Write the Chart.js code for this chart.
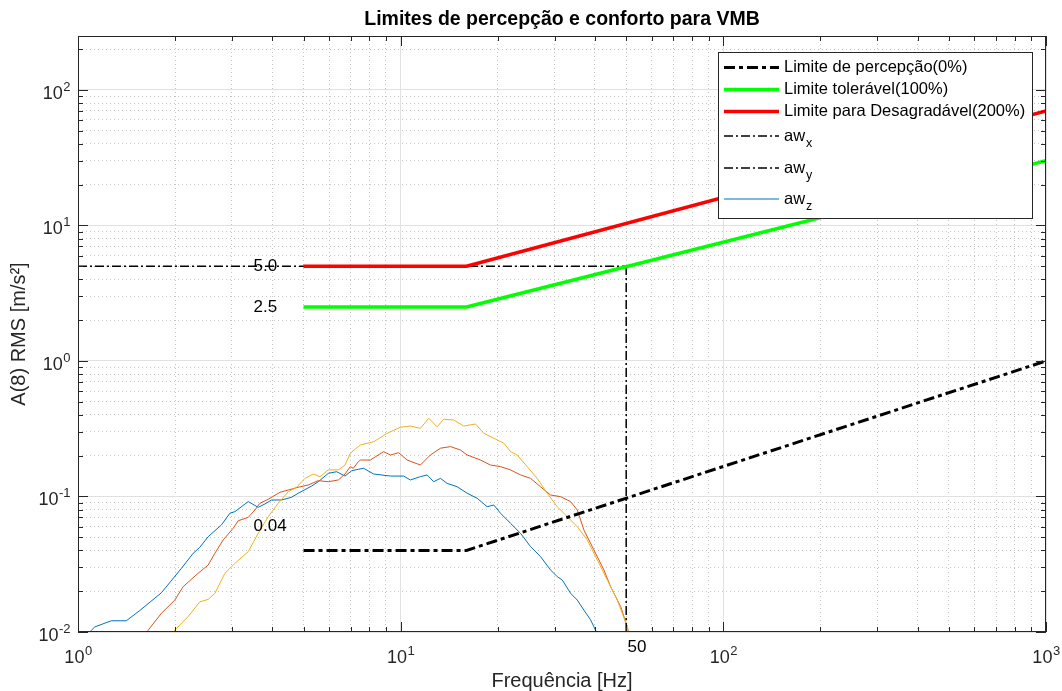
<!DOCTYPE html>
<html>
<head>
<meta charset="utf-8">
<script src="https://cdn.jsdelivr.net/npm/chart.js@4.4.1/dist/chart.umd.min.js"></script>
<style>
html, body { margin: 0; padding: 0; background: #fff; }
canvas { display: block; }
</style>
</head>
<body>
<canvas id="chart" width="1062" height="691"></canvas>
<script>
const FONT = '"Liberation Sans", Arial, Helvetica, sans-serif';

// limit curves, flat up to the 16 Hz break point
const limFreq = [5, 16, 1000];
const limPercepcao = [0.04, 0.04, 1.0];
const limToleravel = [2.5, 2.5, 30];
const limDesagradavel = [5, 5, 70];

// dash-dot guide lines (5 m/s² and 50 Hz)
const guideFreq = [1, 50];
const guideLevel = [5, 5];
const guideVertFreq = [50, 50];
const guideVertLevel = [0.01, 5];

// measured spectra
const freqBlue = [1.08, 1.10, 1.127, 1.268, 1.412, 1.554, 1.814, 2.092, 2.275, 2.386, 2.532, 2.784, 2.956, 3.064,
  3.370, 3.618, 3.797, 3.980, 4.273, 4.590, 4.815, 5.296, 5.556, 5.968, 6.330, 6.722, 7.047, 7.392, 7.677, 8.248,
  9.290, 10.21, 10.72, 11.51, 12.08, 12.66, 13.28, 13.93, 14.96, 16.07, 17.26, 18.54, 19.44, 20.39, 21.90, 23.52,
  25.26, 27.13, 29.14, 30.57, 31.68, 33.62, 35.27, 36.97, 38.78, 40.19, 41.0];
const accBlue = [0.0098, 0.0103, 0.0109, 0.0121, 0.0121, 0.0144, 0.0195, 0.0295, 0.0381, 0.0422, 0.0505, 0.0617, 0.0752, 0.0773,
  0.0917, 0.0832, 0.0881, 0.0942, 0.0942, 0.0987, 0.1057, 0.1194, 0.1285, 0.1482, 0.1523, 0.1415, 0.1549, 0.1588, 0.1614, 0.1465,
  0.1415, 0.1415, 0.1324, 0.1400, 0.1442, 0.1285, 0.1361, 0.1250, 0.1180, 0.1057, 0.0970, 0.0841, 0.0865, 0.0752, 0.0634, 0.0535,
  0.0427, 0.0360, 0.0287, 0.0256, 0.0242, 0.0193, 0.0172, 0.0145, 0.0123, 0.0103, 0.0095];

const freqOrange = [1.62, 1.649, 1.814, 1.995, 2.118, 2.356, 2.532, 2.656, 2.818, 3.026, 3.136, 3.370, 3.534, 3.663,
  3.886, 4.225, 4.484, 4.815, 5.172, 5.556, 5.968, 6.408, 6.722, 6.982, 7.133, 7.392, 7.499, 8.054, 8.858, 9.290,
  9.858, 10.47, 11.51, 12.36, 13.28, 14.27, 15.32, 16.07, 17.68, 18.98, 20.39, 21.90, 23.52, 25.26, 27.13, 29.14,
  31.30, 33.62, 35.27, 36.97, 39.71, 42.65, 44.73, 48.06, 50.42, 51.0];
const accOrange = [0.0095, 0.0103, 0.01375, 0.0172, 0.0216, 0.0271, 0.0312, 0.0381, 0.0478, 0.0582, 0.0662, 0.0701, 0.0795, 0.0891,
  0.0953, 0.1074, 0.1117, 0.1170, 0.1216, 0.1309, 0.1285, 0.1324, 0.1465, 0.1660, 0.1614, 0.1807, 0.1858, 0.1858, 0.2143, 0.2023,
  0.2104, 0.1858, 0.1706, 0.2023, 0.2270, 0.2333, 0.2203, 0.2023, 0.1858, 0.1706, 0.1660, 0.1571, 0.1442, 0.1361, 0.1180, 0.1026,
  0.0997, 0.0917, 0.0795, 0.0566, 0.0403, 0.0287, 0.0216, 0.0154, 0.0109, 0.0095];

const freqYellow = [1.95, 1.971, 2.194, 2.386, 2.532, 2.656, 2.852, 3.064, 3.370, 3.618, 3.886, 4.174, 4.484, 4.757,
  5.051, 5.359, 5.624, 5.968, 6.408, 6.722, 6.982, 7.392, 7.499, 8.248, 9.076, 9.98, 10.72, 11.51, 12.22, 12.97,
  13.59, 14.60, 15.68, 17.06, 18.10, 19.44, 20.88, 21.90, 22.97, 24.67, 26.50, 28.46, 30.57, 32.84, 35.27, 37.87,
  40.69, 43.70, 46.93, 50.42, 51.0];
const accYellow = [0.0095, 0.0100, 0.0130, 0.0167, 0.0174, 0.0193, 0.0271, 0.0321, 0.0392, 0.0535, 0.0709, 0.0891, 0.1084, 0.1170,
  0.1361, 0.1465, 0.1400, 0.1571, 0.1571, 0.1706, 0.2084, 0.2333, 0.2399, 0.2535, 0.2923, 0.3243, 0.3311, 0.3184, 0.3775, 0.3268,
  0.3714, 0.3669, 0.3311, 0.3428, 0.2923, 0.2689, 0.2472, 0.2143, 0.2023, 0.1660, 0.1361, 0.1057, 0.0841, 0.0709, 0.0598, 0.0478,
  0.0340, 0.0242, 0.0172, 0.0109, 0.0095];

// axes
const xDecades = [0, 1, 2, 3];
const yDecades = [-2, -1, 0, 1, 2];
const mantissas = [1, 2, 3, 4, 5, 6, 7, 8, 9];
const xMin = 1, xMax = 1000, yMin = 0.01, yMax = 250;

const legendLabels = ['Limite de percepção(0%)', 'Limite tolerável(100%)', 'Limite para Desagradável(200%)', 'aw', 'aw', 'aw'];
const legendSubs = ['', '', '', 'x', 'y', 'z'];

const pts = (xs, ys) => xs.map((v, i) => ({x: v, y: ys[i]}));

function tickValues(decades, lo, hi) {
  const out = [];
  decades.forEach(d => mantissas.forEach(m => {
    const v = m * Math.pow(10, d);
    if (v >= lo * 0.9999 && v <= hi * 1.0001) out.push(+v.toPrecision(6));
  }));
  return out;
}
const xTickVals = tickValues(xDecades, xMin, xMax);
const yTickVals = tickValues(yDecades, yMin, yMax);
const isDecade = v => Math.abs(Math.log10(v) - Math.round(Math.log10(v))) < 1e-6;

const DASHDOT_THICK = [11, 4, 4, 4];
const DASHDOT = [9, 3, 2, 3];

function powLabel(ctx, exp, x, yBase, align) {
  const base = '10', sup = String(exp);
  ctx.font = '18px ' + FONT;
  const wb = ctx.measureText(base).width;
  ctx.font = '13px ' + FONT;
  const ws = ctx.measureText(sup).width;
  const left = align === 'center' ? x - (wb + ws) / 2 : x - (wb + ws);
  ctx.textAlign = 'left';
  ctx.textBaseline = 'alphabetic';
  ctx.font = '18px ' + FONT;
  ctx.fillText(base, left, yBase);
  ctx.font = '13px ' + FONT;
  ctx.fillText(sup, left + wb + 0.5, yBase - 8);
}

const decor = {
  id: 'decor',
  afterDraw(chart) {
    const {ctx, chartArea: a, scales} = chart;
    const sx = scales.x, sy = scales.y;
    ctx.save();
    ctx.strokeStyle = '#262626';
    ctx.lineWidth = 1;
    // inner ticks on all sides
    ctx.beginPath();
    xTickVals.forEach(v => {
      const px = Math.round(sx.getPixelForValue(v)) + 0.5;
      const len = isDecade(v) ? 10 : 5;
      ctx.moveTo(px, a.bottom); ctx.lineTo(px, a.bottom - len);
      ctx.moveTo(px, a.top); ctx.lineTo(px, a.top + len);
    });
    yTickVals.forEach(v => {
      const py = Math.round(sy.getPixelForValue(v)) + 0.5;
      const len = isDecade(v) ? 10 : 5;
      ctx.moveTo(a.left, py); ctx.lineTo(a.left + len, py);
      ctx.moveTo(a.right, py); ctx.lineTo(a.right - len, py);
    });
    ctx.stroke();
    // axes box
    ctx.strokeRect(Math.round(a.left) + 0.5, Math.round(a.top) + 0.5,
      Math.round(a.right - a.left) - 1, Math.round(a.bottom - a.top) - 1);

    // tick labels 10^n
    ctx.fillStyle = '#262626';
    xDecades.forEach(d => powLabel(ctx, d, sx.getPixelForValue(Math.pow(10, d)), a.bottom + 31, 'center'));
    yDecades.forEach(d => powLabel(ctx, d, a.left - 8, sy.getPixelForValue(Math.pow(10, d)) + 9, 'right'));

    // value notes
    ctx.fillStyle = '#000';
    ctx.font = '17px ' + FONT;
    ctx.textAlign = 'left';
    ctx.textBaseline = 'middle';
    [['5.0', 3.5, 5], ['2.5', 3.5, 2.5], ['0.04', 3.5, 0.06], ['50', 50.5, 0.0077]].forEach(n => {
      ctx.fillText(n[0], sx.getPixelForValue(n[1]), sy.getPixelForValue(n[2]));
    });

    // legend box
    const lx = 718, ly = 52, lw = 314, lh = 166;
    ctx.fillStyle = '#fff';
    ctx.fillRect(lx, ly, lw, lh);
    ctx.strokeStyle = '#262626';
    ctx.lineWidth = 1;
    ctx.strokeRect(lx + 0.5, ly + 0.5, lw, lh);
    const rows = [67.5, 89.5, 111.5, 136, 168, 199];
    const ds = [0, 1, 2, 3, 4, 5].map(i => chart.data.datasets[i]);
    rows.forEach((ry, i) => {
      const d = ds[i];
      ctx.save();
      ctx.strokeStyle = d.borderColor;
      ctx.lineWidth = d.borderWidth;
      ctx.setLineDash(d.borderDash || []);
      ctx.beginPath();
      ctx.moveTo(724, ry); ctx.lineTo(779, ry);
      ctx.stroke();
      ctx.restore();
      ctx.fillStyle = '#000';
      ctx.font = '16.5px ' + FONT;
      ctx.textBaseline = 'middle';
      ctx.fillText(legendLabels[i], 784, ry);
      if (legendSubs[i]) {
        const w = ctx.measureText(legendLabels[i]).width;
        ctx.font = '12.5px ' + FONT;
        ctx.fillText(legendSubs[i], 784 + w + 1, ry + 8);
      }
    });
    ctx.restore();
  }
};

const gridColor = c => {
  const v = c.tick && c.tick.value;
  return isDecade(v) ? '#e1e1e1' : '#c4c4c4';
};
const gridDash = c => {
  const v = c.tick && c.tick.value;
  return isDecade(v) ? [] : [1, 3];
};

new Chart(document.getElementById('chart'), {
  type: 'line',
  data: {
    datasets: [
      {label: 'Limite de percepção(0%)', data: pts(limFreq, limPercepcao), borderColor: '#000', borderWidth: 3, borderDash: DASHDOT_THICK},
      {label: 'Limite tolerável(100%)', data: pts(limFreq, limToleravel), borderColor: '#00ff00', borderWidth: 3.5},
      {label: 'Limite para Desagradável(200%)', data: pts(limFreq, limDesagradavel), borderColor: '#ff0000', borderWidth: 3.5},
      {label: 'aw_x', data: pts(guideFreq, guideLevel), borderColor: '#000', borderWidth: 1.5, borderDash: DASHDOT},
      {label: 'aw_y', data: pts(guideVertFreq, guideVertLevel), borderColor: '#000', borderWidth: 1.5, borderDash: DASHDOT},
      {label: 'aw_z', data: pts(freqBlue, accBlue), borderColor: '#0072BD', borderWidth: 1, order: 3},
      {label: 'curva 2', data: pts(freqOrange, accOrange), borderColor: '#D95319', borderWidth: 1, order: 2},
      {label: 'curva 3', data: pts(freqYellow, accYellow), borderColor: '#EDB120', borderWidth: 1, order: 1}
    ]
  },
  options: {
    responsive: false,
    animation: false,
    devicePixelRatio: 1,
    events: [],
    elements: {point: {radius: 0}, line: {tension: 0, borderCapStyle: 'butt', fill: false}},
    layout: {padding: {left: 0, right: 16, top: 0, bottom: 0}},
    plugins: {
      legend: {display: false},
      tooltip: {enabled: false},
      title: {
        display: true,
        text: 'Limites de percepção e conforto para VMB',
        fullSize: false,
        color: '#000',
        font: {family: FONT, size: 19.5, weight: 'bold'},
        padding: {top: 8, bottom: 4.6}
      }
    },
    scales: {
      x: {
        type: 'logarithmic',
        min: xMin, max: xMax,
        afterBuildTicks: s => { s.ticks = xTickVals.map(v => ({value: v})); },
        afterFit: s => { s.height = 59; },
        ticks: {display: false},
        grid: {drawTicks: false, color: gridColor, lineWidth: 1},
        border: {display: false, dash: gridDash},
        title: {display: true, text: 'Frequência [Hz]', color: '#262626', font: {family: FONT, size: 20}, padding: {top: 0, bottom: -2}}
      },
      y: {
        type: 'logarithmic',
        min: yMin, max: yMax,
        afterBuildTicks: s => { s.ticks = yTickVals.map(v => ({value: v})); },
        afterFit: s => { s.width = 78; },
        ticks: {display: false},
        grid: {drawTicks: false, color: gridColor, lineWidth: 1},
        border: {display: false, dash: gridDash},
        title: {display: true, text: 'A(8) RMS [m/s²]', color: '#262626', font: {family: FONT, size: 20}, padding: {top: 7, bottom: 0}}
      }
    }
  },
  plugins: [decor]
});
</script>
</body>
</html>
